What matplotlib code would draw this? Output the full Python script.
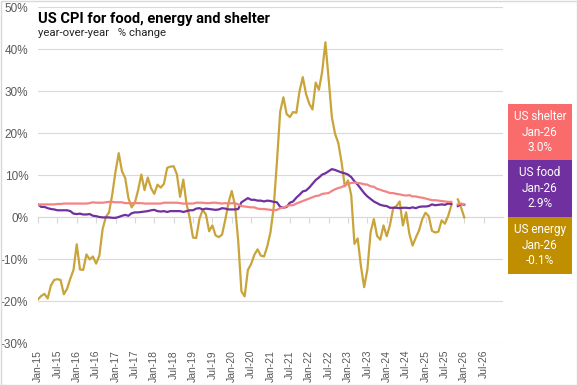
import matplotlib.pyplot as plt
import matplotlib.patches as mpatches
import numpy as np

nan = np.nan

# Monthly year-over-year % change, Jan-2015 .. Jan-2026 (Oct-2025 not published)
shelter = [
    2.9, 3.0, 3.0, 3.0, 3.0, 3.0, 3.1, 3.1, 3.2, 3.2, 3.2, 3.2,
    3.2, 3.2, 3.2, 3.2, 3.3, 3.5, 3.4, 3.4, 3.4, 3.5, 3.6, 3.6,
    3.5, 3.5, 3.5, 3.3, 3.3, 3.3, 3.3, 3.3, 3.3, 3.2, 3.2, 3.2,
    3.2, 3.2, 3.2, 3.4, 3.4, 3.4, 3.4, 3.4, 3.3, 3.2, 3.2, 3.2,
    3.2, 3.4, 3.4, 3.4, 3.3, 3.3, 3.4, 3.4, 3.3, 3.2, 3.3, 3.2,
    3.3, 3.3, 3.0, 2.6, 2.5, 2.4, 2.3, 2.3, 2.0, 1.9, 1.9, 1.8,
    1.7, 1.6, 1.7, 2.1, 2.2, 2.6, 2.8, 2.8, 3.2, 3.5, 3.8, 4.1,
    4.4, 4.7, 5.0, 5.1, 5.5, 5.6, 5.7, 6.2, 6.6, 6.9, 7.1, 7.5,
    7.9, 8.1, 8.2, 8.1, 8.0, 7.8, 7.7, 7.3, 7.2, 6.7, 6.5, 6.2,
    6.0, 5.7, 5.7, 5.5, 5.4, 5.2, 5.1, 5.2, 4.9, 4.9, 4.7, 4.6,
    4.4, 4.2, 4.0, 4.0, 3.9, 3.8, 3.7, 3.6, 3.6, nan, 3.0, 3.2,
    3.0,
]
food = [
    3.0, 2.4, 2.4, 2.1, 1.9, 1.8, 1.6, 1.6, 1.6, 1.6, 1.4, 0.8,
    0.7, 0.8, 0.6, 0.6, 0.7, 0.3, 0.2, 0.0, -0.1, -0.1, -0.1, -0.2,
    -0.2, 0.0, 0.3, 0.5, 0.3, 0.9, 1.1, 1.1, 1.2, 1.3, 1.4, 1.6,
    1.7, 1.4, 1.3, 1.4, 1.2, 1.4, 1.4, 1.4, 1.4, 1.2, 1.4, 1.6,
    1.6, 2.0, 2.1, 1.8, 2.0, 1.9, 1.8, 1.7, 1.8, 2.1, 2.0, 1.8,
    1.8, 1.8, 1.9, 3.5, 4.0, 4.5, 4.1, 4.1, 3.9, 3.9, 3.7, 3.9,
    3.8, 3.6, 3.5, 2.4, 2.2, 2.4, 3.4, 3.7, 4.6, 5.3, 6.1, 6.3,
    7.0, 7.9, 8.8, 9.4, 10.1, 10.4, 10.9, 11.4, 11.2, 10.9, 10.6, 10.4,
    10.1, 9.5, 8.5, 7.7, 6.7, 5.7, 4.9, 4.3, 3.7, 3.3, 2.9, 2.7,
    2.6, 2.2, 2.2, 2.2, 2.1, 2.2, 2.2, 2.1, 2.3, 2.1, 2.4, 2.5,
    2.5, 2.6, 3.0, 2.8, 2.9, 3.0, 2.9, 3.2, 3.1, nan, 2.6, 3.1,
    2.9,
]
energy = [
    -19.6, -18.8, -18.3, -19.4, -16.3, -15.0, -14.8, -15.0, -18.4, -17.1, -14.7, -12.6,
    -6.5, -12.5, -12.6, -8.9, -10.1, -9.4, -11.1, -9.2, -2.9, 0.0, 1.1, 5.4,
    10.8, 15.2, 10.9, 9.3, 4.5, 2.3, 3.4, 6.4, 10.1, 6.4, 9.4, 6.9,
    5.5, 7.7, 7.0, 7.9, 11.7, 12.0, 12.1, 10.2, 4.8, 8.9, 3.1, -0.3,
    -4.9, -5.0, -0.4, 1.7, 0.6, -3.4, -2.0, -4.4, -4.8, -4.2, -0.6, 3.4,
    6.2, 2.8, -5.7, -17.7, -18.9, -12.6, -11.2, -9.0, -7.7, -9.2, -9.4, -7.0,
    -3.6, 2.4, 13.2, 25.1, 28.5, 24.5, 23.8, 25.0, 24.8, 30.0, 33.3, 29.3,
    27.0, 25.6, 32.0, 30.3, 34.6, 41.6, 32.9, 23.8, 19.8, 17.6, 13.1, 7.3,
    8.7, 5.2, -6.4, -5.1, -11.7, -16.7, -12.5, -3.6, -0.5, -4.5, -5.4, -2.0,
    -4.6, -1.9, 2.1, 2.6, 3.7, -2.0, 1.1, -4.0, -6.8, -4.9, -3.2, -0.5,
    1.0, 0.2, -3.3, -3.7, -3.5, -0.8, -1.6, 0.2, 2.8, nan, 4.2, 2.3,
    -0.1,
]

tick_labels = []
for yr in range(15, 27):
    tick_labels += ["Jan-%d" % yr, "Jul-%d" % yr]

legend_rows = [
    ("US shelter\nJan-26\n3.0%", "#FA6B6B"),
    ("US food\nJan-26\n2.9%", "#7030A0"),
    ("US energy\nJan-26\n-0.1%", "#BF8F00"),
]

months = np.arange(len(shelter))
ticks = np.arange(0, 6 * len(tick_labels), 6)

label_font = ["Liberation Sans", "DejaVu Sans"]
head_font = ["Roboto", "DejaVu Sans"]

fig = plt.figure(figsize=(5.77, 3.85), dpi=100)
ax = fig.add_axes([38 / 577, 1 - 343 / 385, (503 - 38) / 577, (343 - 7) / 385])

ax.plot(months, energy, color="#C9A43B", lw=1.6, zorder=3)
ax.plot(months, food, color="#7030A0", lw=1.6, zorder=4)
ax.plot(months, shelter, color="#F28583", lw=1.6, zorder=5)

ax.set_xlim(0, 144)
ax.set_ylim(-30, 50)
ax.set_yticks(np.arange(-30, 51, 10))
ax.set_yticklabels(["%d%%" % v for v in range(-30, 51, 10)],
                   family=label_font, fontsize=8.5, color="#595959")
ax.tick_params(axis="y", length=0, pad=7)
ax.grid(axis="y", color="#D9D9D9", lw=0.8)
ax.set_axisbelow(True)
for s in ["top", "right", "left"]:
    ax.spines[s].set_visible(False)

# category axis crosses at 0%, labels stay at the bottom
ax.spines["bottom"].set_position(("data", 0))
ax.spines["bottom"].set_color("#D9D9D9")
ax.set_xticks(ticks)
ax.tick_params(axis="x", length=4, color="#D9D9D9", labelbottom=False)
sec = ax.secondary_xaxis(0.0)
sec.set_xticks(ticks)
sec.set_xticklabels(tick_labels, rotation=90, family=label_font,
                    fontsize=7.5, color="#595959")
sec.tick_params(length=0, pad=5)
sec.spines["bottom"].set_visible(False)

fig.text(38 / 577, 1 - 23 / 385, "US CPI for food, energy and shelter",
         family=head_font, fontweight="bold", fontsize=10.5, color="#000000",
         va="baseline")
fig.text(38 / 577, 1 - 36 / 385, "year-over-year   % change",
         family=head_font, fontsize=8.2, color="#262626", va="baseline")

box_x0, box_x1 = 508, 572
box_tops = [104, 160, 217]
box_h = 56.5
for (txt, col), top in zip(legend_rows, box_tops):
    rect = mpatches.Rectangle((box_x0 / 577, 1 - (top + box_h) / 385),
                              (box_x1 - box_x0) / 577, box_h / 385,
                              transform=fig.transFigure, facecolor=col,
                              edgecolor="none")
    fig.patches.append(rect)
    fig.text((box_x0 + box_x1) / 2 / 577, 1 - (top + box_h / 2) / 385, txt,
             ha="center", va="center", color="white", family=head_font,
             fontsize=8.5, linespacing=1.25)

fig.patches.append(mpatches.Rectangle((0.5 / 577, 0.5 / 385), 1 - 1 / 577, 1 - 1 / 385,
                                      transform=fig.transFigure, fill=False,
                                      edgecolor="#D9D9D9", lw=1))

fig.savefig("out.png", dpi=100)
